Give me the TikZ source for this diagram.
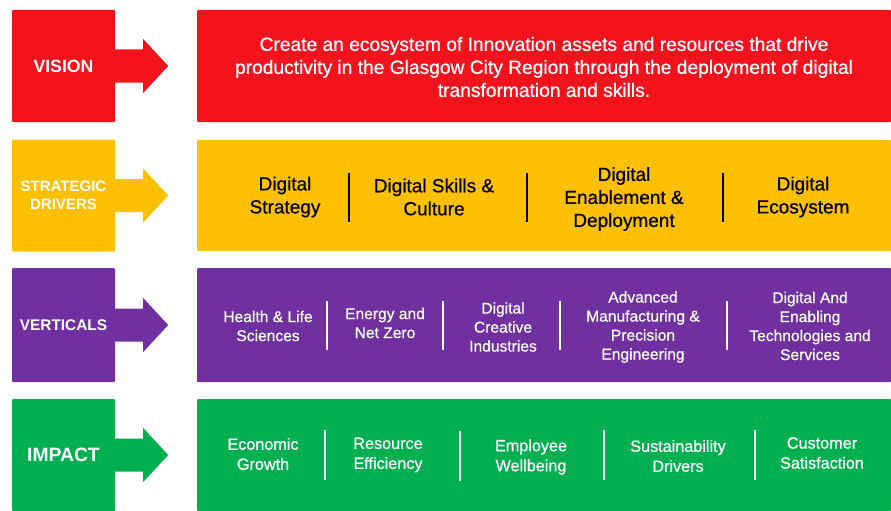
\documentclass[tikz,border=0pt]{standalone}
\usepackage{fontspec}
\setmainfont{Liberation Sans}
\newfontfamily\medfont[FakeBold=0.7]{Liberation Sans}
\usetikzlibrary{calc}
\definecolor{cred}{RGB}{244,18,28}
\definecolor{cyel}{RGB}{254,192,0}
\definecolor{cpur}{RGB}{112,48,160}
\definecolor{cgrn}{RGB}{0,176,80}
\newcommand\fs[2]{\fontsize{#1}{#2}\selectfont}
\newcommand\rowarrow[2]{\fill[#2] ($(#1.east)+(-1,-16.5)$) -- ++(29,0) -- ++(0,-10.5) -- ($(#1.east)+(53,0)$) -- ($(#1.east)+(28,27)$) -- ++(0,-10.5) -- ($(#1.east)+(-1,16.5)$) -- cycle;}
\tikzset{
  sq/.style={minimum width=103pt, minimum height=112pt, inner sep=0pt, rounded corners=1pt, text=white, align=center},
  band/.style={minimum width=694pt, minimum height=112pt, inner sep=0pt, rounded corners=1pt},
  txt/.style={align=center, inner sep=0pt},
  sepb/.style={line width=2.6pt, black},
  sepw/.style={line width=2.4pt, white},
  vistext/.style={txt, text=white, font=\medfont\fs{19.2}{23}},
  strtext/.style={txt, font=\medfont\fs{19}{23}},
  vertext/.style={txt, text=white, font=\medfont\fs{15.6}{19}},
  imptext/.style={txt, text=white, font=\medfont\fs{16.2}{20}},
}
\begin{document}
\begin{tikzpicture}[x=1pt,y=-1pt]
\useasboundingbox (0,0) rectangle (891,511);
% left squares
\node[sq, fill=cred, font=\bfseries\fs{17.7}{20}] (v) at (63.5,66) {VISION};
\node[sq, fill=cyel, font=\bfseries\fs{15}{18}] (s) at (63.5,195.5) {STRATEGIC\\DRIVERS};
\node[sq, fill=cpur, minimum height=114pt, font=\bfseries\fs{15.4}{18}] (vt) at (63.5,325) {VERTICALS};
\node[sq, fill=cgrn, font=\bfseries\fs{19.3}{22}] (im) at (63.5,455) {IMPACT};
\rowarrow{v}{cred}
\rowarrow{s}{cyel}
\rowarrow{vt}{cpur}
\rowarrow{im}{cgrn}
% bands
\node[band, fill=cred] (vb) at (544,66) {};
\node[band, fill=cyel, minimum height=111pt] (sb) at (544,195.5) {};
\node[band, fill=cpur, minimum height=114pt] (vtb) at (544,325) {};
\node[band, fill=cgrn] (imb) at (544,455) {};
% vision text
\node[vistext] (vtext) at (544,67) {Create an ecosystem of Innovation assets and resources that drive\\productivity in the Glasgow City Region through the deployment of digital\\transformation and skills.};
% strategic drivers
\node[strtext] (d1) at (285,197) {Digital\\Strategy};
\node[strtext] (d2) at (434,197) {Digital Skills \&\\Culture};
\node[strtext] (d3) at (624,199) {Digital\\Enablement \&\\Deployment};
\node[strtext] (d4) at (803,197) {Digital\\Ecosystem};
\draw[sepb] (349,173) -- (349,222);
\draw[sepb] (527,173) -- (527,222);
\draw[sepb] (723,173) -- (723,222);
% verticals
\node[vertext] (h1) at (268,326) {Health \& Life\\Sciences};
\node[vertext] (h2) at (385,323) {Energy and\\Net Zero};
\node[vertext] (h3) at (503,327) {Digital\\Creative\\Industries};
\node[vertext] (h4) at (643,327) {Advanced\\Manufacturing \&\\Precision\\Engineering};
\node[vertext] (h5) at (810,326) {Digital And\\Enabling\\Technologies and\\Services};
\draw[sepw] (327,301) -- (327,350);
\draw[sepw] (443,301) -- (443,350);
\draw[sepw] (560,301) -- (560,350);
\draw[sepw] (727,301) -- (727,350);
% impact
\node[imptext] (i1) at (263,454) {Economic\\Growth};
\node[imptext] (i2) at (388,455) {Resource\\Efficiency};
\node[imptext] (i3) at (531,457) {Employee\\Wellbeing};
\node[imptext] (i4) at (678,456) {Sustainability\\Drivers};
\node[imptext] (i5) at (822,453) {Customer\\Satisfaction};
\draw[sepw] (325,430) -- (325,480);
\draw[sepw] (460,431) -- (460,481);
\draw[sepw] (604,430) -- (604,480);
\draw[sepw] (755,430) -- (755,480);
\end{tikzpicture}
\end{document}
